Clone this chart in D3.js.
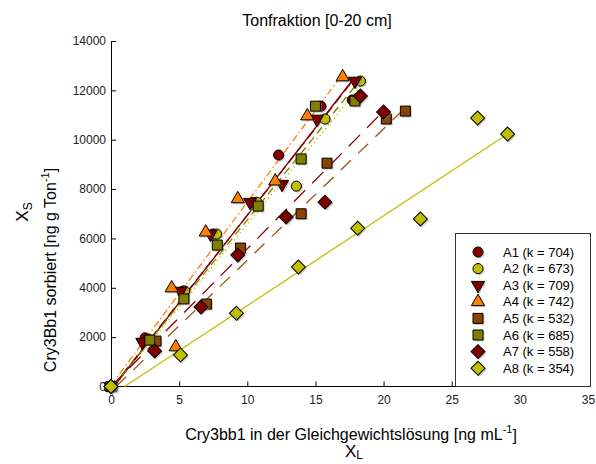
<!DOCTYPE html>
<html>
<head>
<meta charset="utf-8">
<script src="https://cdn.jsdelivr.net/npm/d3@7"></script>
<style>
  body { margin: 0; background: #fff; }
  svg { font-family: "Liberation Sans", Arial, sans-serif; }
  .axis path, .axis line { stroke: #000; }
  .axis text { font-size: 12px; fill: #222; }
</style>
</head>
<body>
<div id="chart"></div>
<script>
// ── Data ───────────────────────────────────────────────────────────────────
const seriesNames = ['A1', 'A2', 'A3', 'A4', 'A5', 'A6', 'A7', 'A8'];
const kValues     = [704, 673, 709, 742, 532, 685, 558, 354];

const a1 = [[0,0],[2.5,1970],[5.3,3870],[7.5,6180],[10.4,7450],[12.3,9380],[15.4,11360],[17.7,11610]];
const a2 = [[0,0],[2.8,1900],[5.4,3870],[7.75,6180],[10.7,7470],[13.6,8120],[15.7,10840],[18.3,12380]];
const a3 = [[0,0],[2.3,1800],[5.1,3870],[7.3,6180],[10.2,7470],[12.55,8200],[15.1,10840],[17.9,12380]];
const a4 = [[0,0],[4.75,1600],[4.45,3990],[6.95,6250],[9.3,7600],[12.05,8320],[14.4,10960],[17.0,12540]];
const a5 = [[0,0],[3.3,1840],[7.0,3340],[9.5,5610],[13.95,7000],[15.85,9050],[20.2,10840],[21.6,11160]];
const a6 = [[0,0],[2.85,1880],[5.35,3550],[7.8,5730],[10.8,7310],[13.95,9220],[15.0,11360],[17.9,11570]];
const a7 = [[0,0],[3.2,1440],[6.6,3220],[9.3,5330],[12.85,6870],[15.7,7470],[18.3,11770],[20.0,11120]];
const a8 = [[0,0],[5.1,1280],[9.2,2970],[13.75,4840],[18.1,6410],[22.7,6790],[26.9,10880],[29.1,10230]];
const seriesPoints = [a1, a2, a3, a4, a5, a6, a7, a8];

// fitted lines: slope and intercept
const fitSlopes     = [704, 673, 709, 742, 532, 685, 558, 364];
const fitIntercepts = [-100, -150, -150, 50, -200, -100, 0, -364];

const xTicks = [0, 5, 10, 15, 20, 25, 30, 35];
const yTicks = [0, 2000, 4000, 6000, 8000, 10000, 12000, 14000];

// ── Styles ──────────────────────────────────────────────────────────────────
const fills   = ['#8b0000', '#bfbf00', '#800000', '#ff8000', '#884400', '#808000', '#800000', '#bfbf00'];
const strokes = ['#8b0000', '#c8c800', '#800000', '#ff8000', '#a0501a', '#808000', '#8b0000', '#bfbf00'];
const dashes  = ['10,5', '1.5,3', null, '7,3,1.5,3', '14,10', '8,5', '16,10', null];
const shapes  = ['circle', 'circle', 'tridown', 'triangle', 'square', 'square', 'diamond', 'diamond'];

const W = 596, H = 464;
const x = d3.scaleLinear().domain([0, 35]).range([111, 588]);
const y = d3.scaleLinear().domain([0, 14000]).range([386.5, 41]);

const svg = d3.select('#chart').append('svg')
  .attr('width', W).attr('height', H);

function symbolPath(shape) {
  if (shape === 'circle') return d3.symbol(d3.symbolCircle, 80)();
  if (shape === 'square') return d3.symbol(d3.symbolSquare, 100)();
  if (shape === 'diamond') return d3.symbol(d3.symbolSquare, 98)();
  return d3.symbol(d3.symbolTriangle, 75)();
}
function symbolRotate(shape) {
  if (shape === 'diamond') return 45;
  if (shape === 'tridown') return 180;
  return 0;
}

// Title
svg.append('text')
  .attr('x', 317).attr('y', 26)
  .attr('text-anchor', 'middle')
  .attr('font-size', 16)
  .text('Tonfraktion [0-20 cm]');

// ── Axes ────────────────────────────────────────────────────────────────────
svg.append('g')
  .attr('class', 'axis')
  .attr('transform', `translate(0,${y(0)})`)
  .call(d3.axisBottom(x).tickValues(xTicks).tickFormat(d3.format('d'))
    .tickSizeInner(-5).tickSizeOuter(0).tickPadding(9))
  .call(g => g.select('.domain').attr('d', `M${x(0)},0H${x(35)}`));

svg.append('g')
  .attr('class', 'axis')
  .attr('transform', `translate(${x(0)},0)`)
  .call(d3.axisLeft(y).tickValues(yTicks).tickFormat(d3.format('d'))
    .tickSizeInner(-5).tickSizeOuter(0).tickPadding(5));

// Axis titles
const ytText = svg.append('text')
  .attr('transform', 'translate(50,270) rotate(-90)')
  .attr('text-anchor', 'middle').attr('font-size', 16).attr('dy', '0.35em');
ytText.append('tspan').text('Cry3Bb1 sorbiert [ng g Ton');
ytText.append('tspan').attr('font-size', 11).attr('dy', '-0.6em').text('-1');
ytText.append('tspan').attr('dy', '0.45em').text(']');

const xs = svg.append('text')
  .attr('transform', 'translate(22,212) rotate(-90)')
  .attr('text-anchor', 'middle').attr('font-size', 17).attr('dy', '0.35em');
xs.append('tspan').text('X');
xs.append('tspan').attr('font-size', 12).attr('dy', '0.3em').text('S');

const xt = svg.append('text')
  .attr('x', 351).attr('y', 440)
  .attr('text-anchor', 'middle').attr('font-size', 16);
xt.append('tspan').text('Cry3bb1 in der Gleichgewichtslösung [ng mL');
xt.append('tspan').attr('font-size', 11).attr('dy', '-0.6em').text('-1');
xt.append('tspan').attr('dy', '0.45em').text(']');

const xl = svg.append('text')
  .attr('x', 354).attr('y', 457)
  .attr('text-anchor', 'middle').attr('font-size', 17);
xl.append('tspan').text('X');
xl.append('tspan').attr('font-size', 12).attr('dy', '0.2em').text('L');

// ── Fit lines ───────────────────────────────────────────────────────────────
const plot = svg.append('g');
seriesNames.forEach((name, i) => {
  const m = fitSlopes[i], b = fitIntercepts[i];
  const x0 = b < 0 ? -b / m : 0;
  const x1 = d3.max(seriesPoints[i], d => d[0]);
  plot.append('line')
    .attr('x1', x(x0)).attr('y1', y(m * x0 + b))
    .attr('x2', x(x1)).attr('y2', y(m * x1 + b))
    .attr('stroke', strokes[i])
    .attr('stroke-width', 1.3)
    .attr('stroke-dasharray', dashes[i]);
});

// ── Markers ─────────────────────────────────────────────────────────────────
function drawMarker(g, cx, cy, i) {
  const shape = shapes[i];
  const tr = `translate(${cx},${cy}) rotate(${symbolRotate(shape)})`;
  g.append('path')
    .attr('d', symbolPath(shape))
    .attr('transform', `translate(1.5,1.5) ${tr}`)
    .attr('fill', '#888').attr('opacity', 0.45);
  g.append('path')
    .attr('d', symbolPath(shape))
    .attr('transform', tr)
    .attr('fill', fills[i])
    .attr('stroke', '#000')
    .attr('stroke-width', 1);
}

seriesNames.forEach((name, i) => {
  const g = plot.append('g').attr('class', 'series-' + name);
  seriesPoints[i].forEach(d => drawMarker(g, x(d[0]), y(d[1]), i));
});

// ── Legend ──────────────────────────────────────────────────────────────────
const legend = svg.append('g');
legend.append('rect')
  .attr('x', 455.5).attr('y', 233.5)
  .attr('width', 135).attr('height', y(0) - 233.5)
  .attr('fill', '#fff').attr('stroke', '#333').attr('stroke-width', 1);

seriesNames.forEach((name, i) => {
  const ly = 252 + i * 16.6;
  drawMarker(legend, 478, ly, i);
  legend.append('text')
    .attr('x', 503).attr('y', ly).attr('dy', '0.35em')
    .attr('font-size', 13)
    .text(`${name} (k = ${kValues[i]})`);
});
</script>
</body>
</html>
